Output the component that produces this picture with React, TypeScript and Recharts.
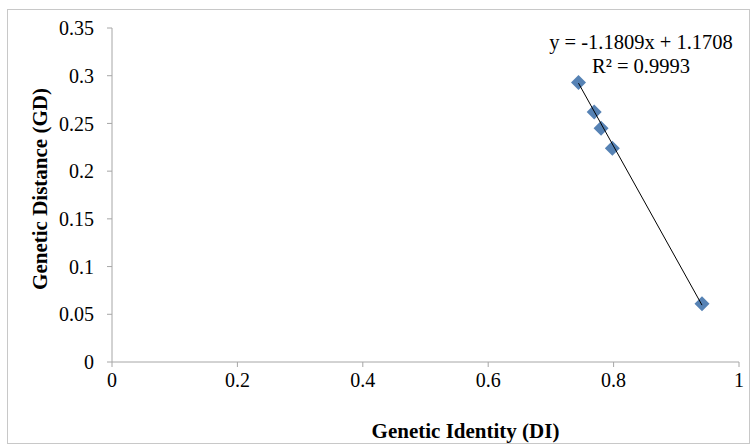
import React from "react";
import { Scatter, ScatterChart, XAxis, YAxis, Label } from "recharts";

// genetic identity (DI) vs genetic distance (GD)
const identity = [0.744, 0.769, 0.78, 0.798, 0.941];
const distance = [0.293, 0.262, 0.245, 0.224, 0.061];

// linear trendline ends, as drawn
const trendIdentity = [0.744, 0.941];
const trendDistance = [0.2922, 0.0596];

const xTicks = [0, 0.2, 0.4, 0.6, 0.8, 1];
const yTicks = [0, 0.05, 0.1, 0.15, 0.2, 0.25, 0.3, 0.35];

const equation = "y = -1.1809x + 1.1708";
const rSquared = "R² = 0.9993";

const points = identity.map((x, i) => ({ x, y: distance[i] }));
const trend = trendIdentity.map((x, i) => ({ x, y: trendDistance[i] }));

const FONT = "'Liberation Serif', 'Times New Roman', serif";
const AXIS = "#a6a6a6";

const Diamond = (props: any) => {
  const { cx, cy } = props;
  const r = 7.5;
  return (
    <polygon
      points={`${cx},${cy - r} ${cx + r},${cy} ${cx},${cy + r} ${cx - r},${cy}`}
      fill="#5682b4"
    />
  );
};

const NoDot = () => <g />;

export default function App() {
  return (
    <div style={{ position: "absolute", left: 0, top: 0, width: 751, height: 446 }}>
      <div
        style={{
          position: "absolute",
          left: 7,
          top: 9,
          width: 743,
          height: 435,
          border: "1px solid #c8c8c8",
          boxSizing: "border-box",
        }}
      />
      <ScatterChart
        width={751}
        height={446}
        margin={{ top: 28, right: 12, left: 0, bottom: 0 }}
        style={{ fontFamily: FONT }}
      >
        <XAxis
          type="number"
          dataKey="x"
          domain={[0, 1]}
          ticks={xTicks}
          height={84}
          stroke={AXIS}
          tickSize={5}
          tickMargin={6}
          tick={{ fill: "#000", fontSize: 20, fontFamily: FONT }}
        >
          <Label
            value="Genetic Identity (DI)"
            position="insideBottom"
            offset={8}
            dx={40}
            style={{ fill: "#000", fontSize: 21, fontWeight: "bold", fontFamily: FONT }}
          />
        </XAxis>
        <YAxis
          type="number"
          dataKey="y"
          domain={[0, 0.35]}
          ticks={yTicks}
          width={112}
          stroke={AXIS}
          tickSize={5}
          tickMargin={13}
          tick={{ fill: "#000", fontSize: 20, fontFamily: FONT }}
        >
          <Label
            value="Genetic Distance (GD)"
            angle={-90}
            position="insideLeft"
            offset={40}
            dy={-6}
            style={{ textAnchor: "middle", fill: "#000", fontSize: 21, fontWeight: "bold", fontFamily: FONT }}
          />
        </YAxis>
        <Scatter data={points} shape={Diamond} isAnimationActive={false} />
        <Scatter
          data={trend}
          line={{ stroke: "#000", strokeWidth: 1 }}
          shape={NoDot}
          isAnimationActive={false}
        />
      </ScatterChart>
      <div
        style={{
          position: "absolute",
          left: 541,
          width: 200,
          top: 30,
          textAlign: "center",
          fontFamily: FONT,
          fontSize: 20.5,
          lineHeight: "24px",
          color: "#000",
        }}
      >
        <div>{equation}</div>
        <div>{rSquared}</div>
      </div>
    </div>
  );
}
